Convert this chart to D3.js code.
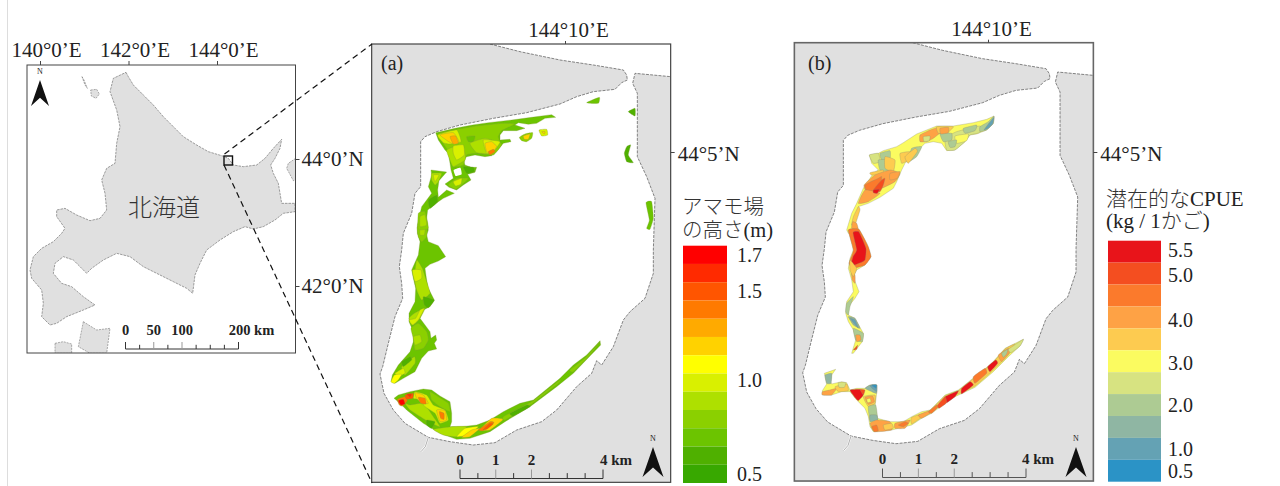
<!DOCTYPE html>
<html><head><meta charset="utf-8">
<style>html,body{margin:0;padding:0;background:#fff}svg{display:block}
text{font-family:"Liberation Serif",serif;fill:#222}
.cjk{font-family:"Noto Sans CJK JP",sans-serif;font-weight:300;fill:#333}
</style>
<script src="https://cdnjs.cloudflare.com/ajax/libs/d3/7.8.5/d3.min.js"></script></head>
<body><svg id="c" width="1280" height="486"></svg>
<script>
// ---------- overview map outlines (survey-grid units) ----------
const hokkaidoOutline=[[378,127],[385,140],[400,165],[430,195],[460,225],[490,260],[520,290],[550,320],[590,345],[625,365],[668,378],[685,385],[700,405],[730,410],[770,405],[795,385],[820,355],[845,328],[840,355],[825,385],[812,405],[820,430],[835,460],[840,490],[845,520],[885,520],[885,545],[850,550],[825,570],[790,590],[760,597],[735,590],[700,605],[660,630],[620,660],[600,700],[585,735],[578,790],[560,775],[520,755],[480,735],[430,710],[390,680],[350,670],[310,690],[275,715],[260,730],[245,715],[220,690],[190,680],[165,700],[160,730],[185,760],[215,770],[250,800],[285,825],[250,840],[200,860],[170,880],[150,885],[125,860],[130,820],[125,780],[95,745],[90,720],[100,680],[125,655],[160,635],[185,610],[195,595],[170,560],[170,540],[195,535],[230,555],[270,572],[300,565],[320,540],[315,490],[305,450],[320,415],[345,400],[350,340],[360,290],[350,240],[330,185],[340,145]];
const otherIslands=[
 [[272,180],[290,178],[298,192],[288,205],[274,198]],
 [[887,385],[865,400],[860,415],[880,452],[887,450]],
 [[250,875],[290,900],[330,895],[320,970],[270,970],[235,950]],
 [[165,940],[190,935],[215,942],[215,970],[165,970]],
 [[246,140],[252,150],[262,175],[255,165]]
];
// ---------- lagoon shoreline (survey-grid units) ----------
const lagoonShore=[[390,42],[480,65],[600,90],[700,105],[790,120],[800,135],[802,150],[785,158],[765,178],[700,185],[650,200],[600,222],[500,248],[400,265],[300,285],[230,305],[195,320],[182,335],[182,470],[165,490],[155,550],[130,610],[125,660],[118,710],[125,760],[128,805],[105,860],[85,940],[68,1010],[60,1032],[72,1090],[100,1140],[135,1180],[205,1222],[270,1235],[340,1245],[405,1238],[470,1200],[545,1175],[590,1140],[650,1070],[695,1030],[710,992],[725,1005],[760,950],[790,870],[810,845],[855,805],[880,730],[880,660],[885,505],[860,440],[832,380],[832,190],[818,160],[825,130],[932,140]];
const creek=[[205,1222],[196,1250],[183,1265]];
const at=(dx,dy,list)=>list.map(([c,p])=>[c,p.map(([x,y])=>[x+dx,y+dy])]);
// ---------- eelgrass height patches, panel (a): [class index (-1 = open water), outline] ----------
const bedsANorth=at(75,240,[
[10,[[152,68],[210,55],[262,45],[310,38],[380,30],[440,22],[500,14],[512,22],[480,25],[455,40],[430,43],[400,38],[390,45],[420,55],[395,62],[355,62],[345,75],[345,90],[375,88],[378,95],[355,100],[340,118],[320,137],[300,140],[270,135],[245,140],[235,150],[240,165],[258,172],[275,172],[270,187],[248,193],[258,210],[235,225],[215,240],[192,232],[180,222],[205,205],[198,180],[195,160],[190,130],[180,120],[160,90]]],
[-1,[[206,180],[226,173],[230,193],[212,198]]],
[9,[[160,72],[260,50],[350,40],[390,42],[350,62],[340,80],[345,95],[350,105],[325,135],[275,130],[245,135],[235,165],[205,170],[195,130]]],
[10,[[245,80],[270,78],[265,95],[250,95]]],
[8,[[185,120],[225,105],[240,130],[240,150],[205,170],[195,150]]],[7,[[205,108],[235,105],[238,135],[215,150],[205,130]]],
[8,[[255,100],[300,85],[340,100],[320,130],[275,128]]],[7,[[295,90],[345,95],[325,125],[305,130]]],[5,[[300,100],[320,95],[335,110],[318,130],[305,125]]],[3,[[310,125],[325,118],[330,125],[315,135]]],
[7,[[158,75],[215,60],[228,95],[195,102],[175,98]]],[5,[[165,75],[205,68],[222,95],[200,100]]],[4,[[195,80],[212,78],[220,100],[205,102]]],
[9,[[190,225],[215,205],[250,205],[230,225],[212,238]]],[7,[[205,215],[230,205],[228,222],[212,228]]],[11,[[235,170],[265,172],[268,185],[245,190]]],
[9,[[403,82],[420,72],[443,68],[440,85],[425,95],[410,92]]],[5,[[415,78],[435,72],[430,88],[418,88]]],
[7,[[462,60],[485,58],[488,75],[470,78]]],[5,[[470,65],[480,65],[478,72]]]
]);
const bedsAEast=[[10,[[680,218],[718,202],[715,220]]],[11,[[805,245],[825,235],[825,258]]],[11,[[800,350],[812,345],[805,375],[820,398],[800,395],[793,370]]],[10,[[858,518],[875,515],[880,565],[870,598],[860,595],[868,570]]]];
const bedsAWest=[[10,[[213,420],[260,426],[237,452],[233,480],[235,502],[260,480],[283,490],[250,505],[235,515],[203,540],[200,565],[205,600],[200,615],[205,635],[235,647],[257,680],[235,693],[210,703],[195,715],[200,750],[205,775],[223,810],[210,830],[190,840],[180,865],[195,885],[210,905],[213,925],[227,915],[230,930],[223,940],[230,957],[205,963],[185,985],[165,1025],[130,1045],[105,1060],[93,1055],[97,1035],[115,1005],[150,965],[160,935],[160,905],[147,875],[147,850],[165,815],[167,775],[160,745],[155,720],[175,675],[180,635],[172,610],[172,585],[185,530],[215,490],[205,470],[215,435]]]].concat(at(75,585,[
[8,[[95,105],[112,130],[125,170],[135,205],[110,225],[95,195],[88,160]]],[7,[[82,135],[108,135],[110,160],[90,170]]],
[11,[[115,215],[148,225],[130,248],[118,240]]],
[9,[[97,5],[125,5],[125,35],[110,50],[100,35]]],[8,[[105,10],[120,10],[118,30],[105,30]]],
[8,[[72,280],[88,265],[120,250],[105,280],[85,300]]],[7,[[72,285],[92,280],[105,255],[118,250],[100,285],[82,300]]],
[9,[[78,310],[100,295],[125,320],[130,345],[115,370],[90,375],[85,340]]],[8,[[85,335],[105,330],[110,350],[90,360]]],
[8,[[50,425],[88,395],[90,415],[60,450]]],[11,[[50,410],[75,395],[80,405],[55,425]]],
[7,[[30,445],[55,430],[60,445],[40,455]]],[6,[[18,470],[28,450],[50,448],[40,465],[28,475]]]
]),at(75,240,[
[9,[[100,310],[120,305],[130,355],[100,358]]],[8,[[105,320],[120,315],[125,345],[105,350]]],
[8,[[140,190],[170,190],[160,215],[150,225],[140,210]]],[7,[[145,195],[162,195],[150,215]]],
[11,[[130,270],[155,255],[158,275],[135,295]]]
]));
const bedsASouth=at(90,1050,[
[10,[[12,55],[25,45],[60,35],[100,27],[125,30],[150,48],[180,65],[185,100],[185,125],[180,140],[215,140],[260,135],[300,120],[340,95],[390,70],[430,60],[510,-5],[550,-45],[590,-75],[630,-118],[632,-105],[600,-72],[550,-20],[500,20],[420,80],[345,125],[300,155],[240,175],[200,178],[150,160],[100,130],[50,90],[30,70]]],
[8,[[45,70],[60,75],[100,70],[130,110],[150,140],[115,125],[60,90]]],
[9,[[120,35],[145,50],[175,70],[180,95],[150,80],[125,60]]],
[7,[[75,35],[110,45],[130,75],[165,90],[175,120],[150,130],[135,100],[105,80],[90,60],[70,55]]],
[5,[[75,38],[100,45],[115,70],[95,70],[80,55]]],[3,[[85,52],[105,55],[108,72],[92,70]]],
[5,[[140,90],[165,92],[170,120],[150,125]]],[3,[[148,95],[162,100],[162,118],[152,115]]],
[11,[[110,120],[135,125],[125,145],[110,135]]],
[3,[[22,58],[45,50],[52,62],[38,78],[28,75]]],[2,[[45,45],[70,40],[68,55],[50,58]]],[1,[[50,42],[65,42],[60,52]]],[0,[[25,62],[40,58],[45,72],[32,75]]],
[8,[[130,148],[185,140],[230,140],[200,170],[160,165]]],[6,[[200,170],[225,145],[265,140],[235,165]]],[5,[[215,172],[245,150],[270,145],[240,170]]],
[5,[[270,150],[305,115],[340,118],[300,150]]],[3,[[265,150],[300,125],[312,128],[280,152]]],[2,[[280,148],[300,130],[310,132],[290,148]]],
[9,[[340,110],[430,62],[510,0],[505,10],[425,72],[345,120]]],[11,[[360,100],[410,75],[420,80],[370,108]]],[9,[[540,-30],[590,-70],[630,-115],[600,-75],[550,-25]]]
]);
const bedsA=[...bedsANorth,...bedsAEast,...bedsAWest,...bedsASouth];
// ---------- potential CPUE patches, panel (b) ----------
const bedsBNorth=at(165,240,[
[5,[[462,18],[460,40],[440,60],[410,72],[390,75],[375,95],[345,120],[320,122],[305,100],[280,95],[255,100],[230,125],[195,160],[185,180],[170,215],[160,235],[120,262],[85,280],[55,290],[45,320],[35,345],[45,360],[60,385],[25,370],[20,360],[35,310],[50,280],[70,235],[100,190],[115,180],[95,160],[88,135],[115,130],[130,122],[170,110],[190,98],[230,72],[290,48],[340,48],[400,38],[440,28]]],
[6,[[315,85],[350,65],[420,48],[418,68],[390,75],[375,95],[345,120],[320,120]]],[5,[[345,78],[385,72],[380,92],[350,100]]],[7,[[325,95],[350,90],[345,110],[330,112]]],
[7,[[462,18],[460,40],[440,60],[420,65],[420,50],[445,35]]],[9,[[462,22],[458,42],[445,55],[432,60],[445,42]]],
[3,[[270,60],[300,50],[310,60],[280,85],[260,95],[240,95],[240,75]]],[4,[[290,50],[340,50],[320,70],[295,70]]],[7,[[300,70],[335,70],[335,90],[310,95]]],[6,[[250,80],[270,78],[268,92],[252,95]]],[3,[[300,55],[325,52],[325,68],[302,72]]],[7,[[370,55],[410,45],[405,62],[375,70]]],
[7,[[215,115],[245,110],[230,140],[205,155]]],[4,[[180,130],[215,125],[205,150],[185,160]]],[4,[[195,140],[225,115],[232,125],[205,160]]],[7,[[120,130],[150,122],[150,145],[125,150]]],
[6,[[88,135],[115,130],[120,155],[100,160]]],[7,[[115,150],[145,150],[150,180],[120,180]]],[4,[[135,140],[165,150],[160,185],[135,175]]],
[4,[[90,188],[130,180],[128,195],[95,195]]],
[3,[[105,195],[150,180],[180,190],[165,215],[125,235],[80,245],[72,225]]],[3,[[150,190],[180,185],[172,205],[150,210]]],[2,[[75,225],[115,205],[125,200],[120,235],[85,255]]],
[3,[[55,280],[75,240],[120,250],[85,275]]],[1,[[100,240],[125,210],[135,205],[130,225],[120,245]]],[0,[[100,240],[118,238],[112,250],[100,248]]],
[4,[[40,320],[55,290],[60,300],[45,345],[35,345]]],[3,[[38,335],[50,340],[55,360],[35,355]]]
]);
const bedsBMid=[
[5,[[190,600],[222,598],[245,640],[258,680],[240,705],[215,720],[205,740],[222,785],[210,805],[190,830],[190,855],[210,865],[235,910],[232,935],[205,970],[200,970],[212,930],[205,900],[190,875],[182,850],[185,815],[205,785],[200,750],[190,715],[195,685],[205,660]]],
[2,[[190,600],[222,598],[250,650],[258,680],[240,705],[205,715],[192,700],[205,660]]],
[0,[[204,608],[222,606],[243,655],[240,690],[222,700],[198,708],[204,680],[215,660]]],
[3,[[198,720],[210,735],[210,760],[202,750]]],[4,[[195,690],[215,715],[205,740],[195,720]]],
[7,[[185,820],[205,800],[195,830],[190,855],[182,845]]],[8,[[190,860],[210,865],[225,895],[205,885]]],[9,[[195,865],[210,870],[220,895]]],
[7,[[205,895],[235,910],[232,935],[212,930]]],[3,[[212,915],[225,915],[228,930],[215,935]]],[1,[[205,960],[218,945],[215,958]]]
];
const bedsBSouth=at(90,990,[
[5,[[62,28],[50,45],[47,65],[50,72],[80,65],[95,68],[105,90],[125,85],[150,85],[165,75],[185,75],[185,100],[180,140],[187,175],[225,185],[265,185],[290,170],[320,155],[345,150],[390,105],[430,90],[480,50],[530,10],[570,-35],[625,-62],[615,-42],[580,-10],[535,35],[480,82],[420,110],[390,130],[350,160],[320,175],[290,195],[230,210],[175,215],[165,200],[160,170],[150,145],[125,120],[105,95],[80,95],[50,105],[22,105],[22,92],[35,72],[28,40]]],
[4,[[290,172],[345,152],[390,108],[430,92],[480,52],[530,12],[570,-33],[600,-48],[580,-15],[535,30],[480,78],[420,106],[390,126],[350,156],[320,172],[290,192]]],
[8,[[30,45],[50,40],[48,70],[35,70]]],[3,[[22,95],[45,90],[65,85],[50,105],[22,105]]],[4,[[60,80],[95,72],[100,92],[70,95]]],[6,[[70,68],[92,68],[88,82],[72,82]]],
[0,[[105,90],[135,88],[145,105],[130,122],[118,110]]],[1,[[135,88],[150,90],[145,105]]],
[4,[[145,110],[180,105],[180,130],[160,140]]],[3,[[150,112],[172,108],[178,125],[160,133]]],[5,[[155,118],[165,115],[168,125],[158,128]]],
[8,[[150,85],[165,75],[185,75],[185,100],[170,95]]],[9,[[165,77],[185,75],[185,95],[175,88]]],[10,[[170,75],[185,75],[183,85]]],
[7,[[160,140],[182,135],[187,175],[165,180]]],[8,[[165,165],[185,165],[188,180],[165,185]]],
[3,[[165,190],[185,180],[225,185],[230,210],[178,215]]],[2,[[170,200],[185,195],[190,212],[178,215]]],[4,[[205,195],[230,190],[235,205],[210,210]]],
[3,[[240,190],[285,180],[270,205],[240,205]]],[2,[[250,195],[270,185],[280,190],[265,200]]],
[3,[[310,165],[350,150],[345,160],[320,175]]],[2,[[340,155],[365,135],[370,140],[350,160]]],
[0,[[390,110],[430,92],[420,110],[395,128]]],[1,[[368,135],[390,110],[395,128],[372,145]]],
[0,[[440,85],[465,65],[475,75],[440,102]]],[2,[[475,50],[510,25],[515,40],[480,70]]],
[0,[[518,20],[542,0],[548,10],[525,35]]],[3,[[550,-15],[580,-35],[582,-20],[560,5]]],[6,[[580,-32],[625,-62],[615,-42],[588,-22]]],[7,[[560,-20],[578,-32],[575,-18],[565,-8]]]
]);
const bedsB=[...bedsBNorth,...bedsBMid,...bedsBSouth];
// ---------- legend classes ----------
const heightColors=["#ff0000","#ff2a00","#ff5500","#ff7a00","#ffaa00","#ffd200","#ffff00","#d9f000","#aee000","#8bd000","#6cc400","#4fb000","#38a800"];
const heightLabels=["1.7","1.5","1.0","0.5"];
const heightLabelRow=[0.89,2.87,7.74,12.9];
const cpueColors=["#e8141a","#f44e20","#fb7a2c","#fea245","#fdcb50","#fbfb60","#d7e381","#adcb93","#8fb6a3","#64a2b4","#2b93c6"];
const cpueLabels=["5.5","5.0","4.0","3.0","2.0","1.0","0.5"];
const cpueLabelRow=[0.74,1.88,3.93,5.9,7.82,9.83,10.83];
const lonTicks=[140,142,144], latTicks=[44,42];

const svg=d3.select("#c");
const line=(x,y)=>d3.line().x(d=>x(d[0])).y(d=>y(d[1]));
const soft=(x,y)=>d3.line().x(d=>x(d[0])).y(d=>y(d[1])).curve(d3.curveCardinalClosed.tension(0.55));
const tickFont=g=>{g.select(".domain").remove();g.selectAll("line").attr("stroke","#444");g.selectAll("text").attr("font-family","Liberation Serif").attr("font-size",21).attr("fill","#222");};

svg.append("line").attr("x1",7.5).attr("x2",7.5).attr("y1",0).attr("y2",486).attr("stroke","#ddd");

// ---------- overview ----------
const F={l:27,t:65,r:295.5,b:353};
const xO=d3.scaleLinear([0,1020],[0,340]), yO=d3.scaleLinear([0,990],[30,360]);
const lonS=d3.scaleLinear([140,144],[40,217]), latS=d3.scaleLinear([42,44],[286,159]);
svg.append("clipPath").attr("id","cf").append("rect").attr("x",F.l).attr("y",F.t).attr("width",F.r-F.l).attr("height",F.b-F.t);
const ov=svg.append("g");
const ovC=ov.append("g").attr("clip-path","url(#cf)");
ovC.selectAll("path.i").data(otherIslands).join("path").attr("d",d=>line(xO,yO)(d)+"Z").attr("fill","#e0e0e0").attr("stroke","#777").attr("stroke-width",.6).attr("stroke-dasharray","2 1");
ovC.append("path").attr("d",line(xO,yO)(hokkaidoOutline)+"Z").attr("fill","#e0e0e0").attr("stroke","#777").attr("stroke-width",.7).attr("stroke-dasharray","2.5 1");
ov.append("rect").attr("x",F.l).attr("y",F.t).attr("width",F.r-F.l).attr("height",F.b-F.t).attr("fill","none").attr("stroke","#444").attr("stroke-width",1);
ov.append("g").attr("transform",`translate(0,${F.t})`).call(d3.axisTop(lonS).tickValues(lonTicks).tickSize(4).tickFormat(d=>`${d}°0’E`)).call(tickFont).call(g=>g.selectAll("text").attr("dy",-1).attr("dx",6));
ov.append("g").attr("transform",`translate(${F.r},0)`).call(d3.axisRight(latS).tickValues(latTicks).tickSize(4).tickFormat(d=>`${d}°0’N`)).call(tickFont).call(g=>g.selectAll("text").attr("x",6));
ov.append("text").attr("class","cjk").attr("x",164).attr("y",216).attr("text-anchor","middle").attr("font-size",24).text("北海道");
ov.append("rect").attr("x",224).attr("y",156).attr("width",8.5).attr("height",9).attr("fill","none").attr("stroke","#111").attr("stroke-width",1.4);

function north(x,y,h,w,fs,ny){
 const g=svg.append("g");
 g.append("path").attr("d",`M${x},${y}L${x-w},${y+h}L${x},${y+h*.68}L${x+w},${y+h}Z`).attr("fill","#111");
 g.append("text").attr("x",x).attr("y",ny).attr("text-anchor","middle").attr("font-size",fs).attr("fill","#555").text("N");
}
north(40,80,26,9,8,74);

function scalebar(x0,x1,y,dom,minorStep,majors,h,labels,ly,fs,col){
 const s=d3.scaleLinear(dom,[x0,x1]);
 const g=svg.append("g").attr("stroke",col).attr("stroke-width",1);
 g.append("line").attr("x1",x0).attr("x2",x1).attr("y1",y).attr("y2",y);
 d3.range(dom[0],dom[1]+.001,minorStep).forEach(v=>{
  const big=majors.includes(v);
  g.append("line").attr("x1",s(v)).attr("x2",s(v)).attr("y1",y).attr("y2",y-(big?h:h*.6)).attr("stroke",big&&v>dom[0]&&v<dom[1]?"#999":col);
 });
 labels.forEach(l=>svg.append("text").attr("x",s(l[0])).attr("y",ly).attr("font-size",fs).attr("font-weight","bold").attr("text-anchor","middle").attr("fill","#111").attr("dx",l[2]||0).text(l[1]));
}
scalebar(125.5,238.5,349,[0,200],25,[0,50,100,200],7,[[0,"0"],[50,"50"],[100,"100"],[200,"200 km",13]],335,14.5,"#333");

// ---------- detail panels ----------
function panel(id,dx,dy,beds,colors,bx,by,frameCol,frameW,label,lx,edge){
 const x=d3.scaleLinear([0,960],[360+dx,680+dx]), y=d3.scaleLinear([0,1350],[30+dy,480+dy]);
 const L=x(35),R=x(932),T=y(42),B=y(1357);
 svg.append("clipPath").attr("id",id).append("rect").attr("x",L).attr("y",T).attr("width",R-L).attr("height",B-T);
 const g=svg.append("g");
 const c=g.append("g").attr("clip-path",`url(#${id})`);
 c.append("rect").attr("x",L).attr("y",T).attr("width",R-L).attr("height",B-T).attr("fill","#e0e0e0");
 c.append("path").attr("d",line(x,y)(lagoonShore)+`L${x(960)},${y(140)}L${x(960)},${y(0)}L${x(390)},${y(0)}Z`).attr("fill","#fff");
 c.append("path").attr("d",line(x,y)(lagoonShore)).attr("fill","none").attr("stroke","#666").attr("stroke-width",.8).attr("stroke-dasharray","3 1.2");
 c.append("path").attr("d",line(x,y)(creek)).attr("fill","none").attr("stroke","#fff").attr("stroke-width",2);
 c.append("path").attr("d",line(x,y)(creek)).attr("fill","none").attr("stroke","#777").attr("stroke-width",.6);
 const xb=d3.scaleLinear([0,960],[bx,bx+320]), yb=d3.scaleLinear([0,1350],[by,by+450]);
 const big=d=>d[1].length>20;
 c.selectAll("path.b").data(beds).join("path").attr("class","b")
  .attr("d",d=>big(d)?line(xb,yb)(d[1])+"Z":soft(xb,yb)(d[1]))
  .attr("fill",d=>d[0]<0?"#fff":colors[d[0]]).attr("stroke",d=>d[0]<0?"none":edge).attr("stroke-opacity",.7).attr("stroke-width",.45);
 g.append("rect").attr("x",L).attr("y",T).attr("width",R-L).attr("height",B-T).attr("fill","none").attr("stroke",frameCol).attr("stroke-width",frameW);
 g.append("text").attr("x",lx).attr("y",70).attr("font-size",20).text(label);
 return {L,R,T,B};
}
const PA=panel("pa",0,0,bedsA,heightColors,360,30,"#444",1.2,"(a)",381,"#7f9a3a");
const PB=panel("pb",422.7,-1.3,bedsB,cpueColors,785,30,"#666",1.6,"(b)",808,"#8c8c70");

// ---------- panel graticule labels ----------
[[PA,565,"144°10’E",568],[PB,988,"144°10’E",991]].forEach(p=>{
 const tx=d3.scaleLinear([144+1/6,144+1/6+.1],[p[1],p[1]+50]);
 svg.append("g").attr("transform",`translate(0,${p[0].T})`).call(d3.axisTop(tx).tickValues([144+1/6]).tickSize(3).tickFormat(()=>p[2])).call(tickFont).call(g=>g.selectAll("text").attr("x",p[3]-p[1]).attr("dy",-1));
 const ty=d3.scaleLinear([44+1/12,44],[152,202]);
 svg.append("g").attr("transform",`translate(${p[0].R},0)`).call(d3.axisRight(ty).tickValues([44+1/12]).tickSize(4).tickFormat(()=>"44°5’N")).call(tickFont).call(g=>g.selectAll("text").attr("x",7).attr("dy","0.4em"));
});

scalebar(460,603,478.5,[0,4],.5,[0,1,2,4],9,[[0,"0"],[1,"1"],[2,"2"],[4,"4 km",13]],465,15,"#333");
scalebar(882.5,1026,477.5,[0,4],.5,[0,1,2,4],9,[[0,"0"],[1,"1"],[2,"2"],[4,"4 km",12]],463.5,15,"#555");
north(653,447,30,10.5,8,441);
north(1076,447,30,10.5,8,441);

// leader lines
[[224.5,154,372,44],[224,165,372,483]].forEach(d=>svg.append("line").attr("x1",d[0]).attr("y1",d[1]).attr("x2",d[2]).attr("y2",d[3]).attr("stroke","#111").attr("stroke-width",1.2).attr("stroke-dasharray","6 4"));

// ---------- legends ----------
function legend(colors,x,w,top,bottom,labels,rows,tx){
 const band=d3.scaleBand(d3.range(colors.length),[top,bottom]);
 const rowY=d3.scaleLinear([0,colors.length],[top,bottom]);
 svg.append("g").selectAll("rect").data(colors).join("rect").attr("x",x).attr("y",(d,i)=>band(i)).attr("width",w).attr("height",band.bandwidth()).attr("fill",d=>d);
 svg.append("g").selectAll("text").data(labels).join("text").attr("x",tx).attr("y",(d,i)=>rowY(rows[i])).attr("font-size",20).text(d=>d);
}
legend(heightColors,683,44,245.7,483,heightLabels,heightLabelRow,737);
legend(cpueColors,1108,53,240.7,481.7,cpueLabels,cpueLabelRow,1168);
function ttl(x,y,parts,fs){const t=svg.append("text").attr("x",x).attr("y",y).attr("font-size",fs);parts.forEach(p=>t.append("tspan").attr("class",p[1]?"cjk":null).style("font-family",p[1]?'"Noto Sans CJK JP"':'"Liberation Serif"').text(p[0]));}
ttl(682,214,[["アマモ場",1]],20.5);
ttl(682,237,[["の高さ",1],["(m)",0]],20.5);
ttl(1106,206,[["潜在的な",1],["CPUE",0]],21);
ttl(1106,228,[["(kg / 1",0],["かご",1],[")",0]],21);
</script></body></html>
